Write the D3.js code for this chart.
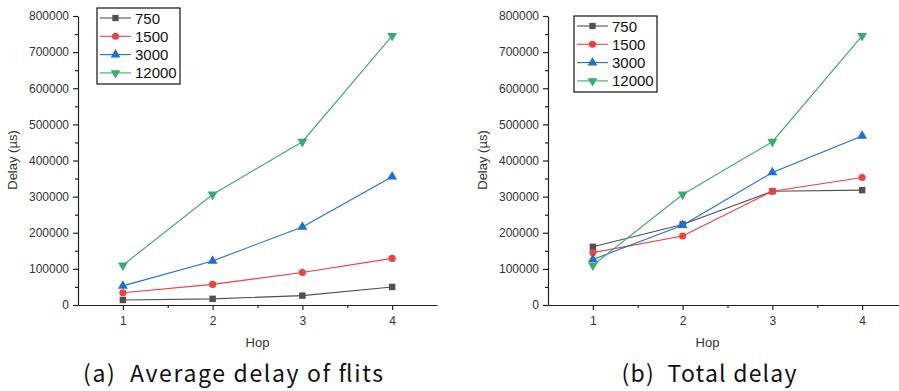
<!DOCTYPE html>
<html>
<head>
<meta charset="utf-8">
<script src="https://cdn.jsdelivr.net/npm/d3@7"></script>
<style>
  body { margin: 0; background: #fff; }
  svg { display: block; }
  .tick text { font-family: "Liberation Sans", Arial, sans-serif; font-size: 12px; fill: #333; }
  .axis-title { font-family: "Liberation Sans", Arial, sans-serif; font-size: 13px; fill: #333; }
  .legend-text { font-family: "Liberation Sans", Arial, sans-serif; font-size: 15px; fill: #111; }
  .caption { font-family: "Noto Sans CJK KR", "Noto Sans", sans-serif; font-size: 23px; fill: #111; }
</style>
</head>
<body>
<div id="chart"></div>
<script>
var hops = [1, 2, 3, 4];
var seriesNames = ['750', '1500', '3000', '12000'];
var colors = ['#515151', '#F14040', '#1A6FDF', '#37AD6B'];
var yTicks = [0, 100000, 200000, 300000, 400000, 500000, 600000, 700000, 800000];

// (a) average delay of flits
var avg750 = [14000, 17000, 26000, 50000];
var avg1500 = [34000, 57000, 90000, 129000];
var avg3000 = [53000, 122000, 216000, 355000];
var avg12000 = [110000, 306000, 452000, 745000];

// (b) total delay
var tot750 = [161000, 223000, 315000, 318000];
var tot1500 = [145000, 191000, 315000, 353000];
var tot3000 = [126000, 221000, 367000, 468000];
var tot12000 = [110000, 306000, 452000, 745000];

var svg = d3.select('#chart').append('svg')
  .attr('width', 899).attr('height', 391);

var symbols = [d3.symbolSquare, d3.symbolCircle, d3.symbolTriangle, d3.symbolTriangle];
var rot = [0, 0, 0, 180];

function drawPanel(left, right, data, legendPos, caption) {
  var x = d3.scaleLinear().domain([0.5, 4.5]).range([left, right]);
  var y = d3.scaleLinear().domain([0, 800000]).range([305, 16]);
  var g = svg.append('g');

  // minor ticks
  g.append('g').attr('transform', 'translate(0,305)')
    .call(d3.axisBottom(x).tickValues([1.5, 2.5, 3.5]).tickSize(3).tickFormat(''))
    .call(function(a) { a.select('.domain').remove(); });
  g.append('g').attr('transform', 'translate(' + left + ',0)')
    .call(d3.axisLeft(y).tickValues(d3.range(50000, 800000, 100000)).tickSize(3).tickFormat(''))
    .call(function(a) { a.select('.domain').remove(); });

  g.append('g').attr('transform', 'translate(0,305)')
    .call(d3.axisBottom(x).tickValues(hops).tickSize(5).tickPadding(6).tickSizeOuter(0).tickFormat(d3.format('d')));
  g.append('g').attr('transform', 'translate(' + left + ',0)')
    .call(d3.axisLeft(y).tickValues(yTicks).tickSize(5).tickPadding(4).tickSizeOuter(0).tickFormat(d3.format('d')));
  g.selectAll('.domain, .tick line').attr('stroke', '#222').attr('stroke-width', 1.2);

  var line = d3.line().x(function(d, i) { return x(hops[i]); }).y(function(d) { return y(d); });
  data.forEach(function(vals, s) {
    g.append('path').datum(vals).attr('d', line)
      .attr('fill', 'none').attr('stroke', colors[s]).attr('stroke-width', 1.1);
    g.selectAll('.m' + s).data(vals).enter().append('path')
      .attr('d', d3.symbol().type(symbols[s]).size(s == 1 ? 40 : 42))
      .attr('transform', function(d, i) { return 'translate(' + x(hops[i]) + ',' + y(d) + ') rotate(' + rot[s] + ')'; })
      .attr('fill', colors[s]);
  });

  // axis titles
  g.append('text').attr('class', 'axis-title').attr('text-anchor', 'middle')
    .attr('x', (left + right) / 2 - (right > 899 ? 20 : 0)).attr('y', 347).text('Hop');
  g.append('text').attr('class', 'axis-title').attr('text-anchor', 'middle')
    .attr('transform', 'translate(' + (left - 61) + ',160) rotate(-90)').text('Delay (µs)');

  // legend
  var lg = g.append('g').attr('transform', 'translate(' + legendPos[0] + ',' + legendPos[1] + ')');
  lg.append('rect').attr('width', 83).attr('height', 76)
    .attr('fill', '#fff').attr('stroke', '#111').attr('stroke-width', 1.2);
  seriesNames.forEach(function(n, s) {
    var yy = 10 + s * 18.3;
    lg.append('line').attr('x1', 3).attr('x2', 34).attr('y1', yy).attr('y2', yy)
      .attr('stroke', colors[s]).attr('stroke-width', 1.1);
    lg.append('path').attr('d', d3.symbol().type(symbols[s]).size(40)())
      .attr('transform', 'translate(18.5,' + yy + ') rotate(' + rot[s] + ')').attr('fill', colors[s]);
    lg.append('text').attr('class', 'legend-text').attr('x', 38).attr('y', yy + 5.5).text(n);
  });

  svg.append('text').attr('class', 'caption').attr('text-anchor', 'middle')
    .attr('x', caption[1]).attr('y', 382).attr('xml:space', 'preserve')
    .attr('textLength', caption[2]).attr('lengthAdjust', 'spacing').text(caption[0]);
}

drawPanel(78, 437, [avg750, avg1500, avg3000, avg12000], [97, 8], ['(a)  Average delay of flits', 233, 300]);
drawPanel(548, 907, [tot750, tot1500, tot3000, tot12000], [574, 16], ['(b)  Total delay', 709, 175]);
</script>
</body>
</html>
